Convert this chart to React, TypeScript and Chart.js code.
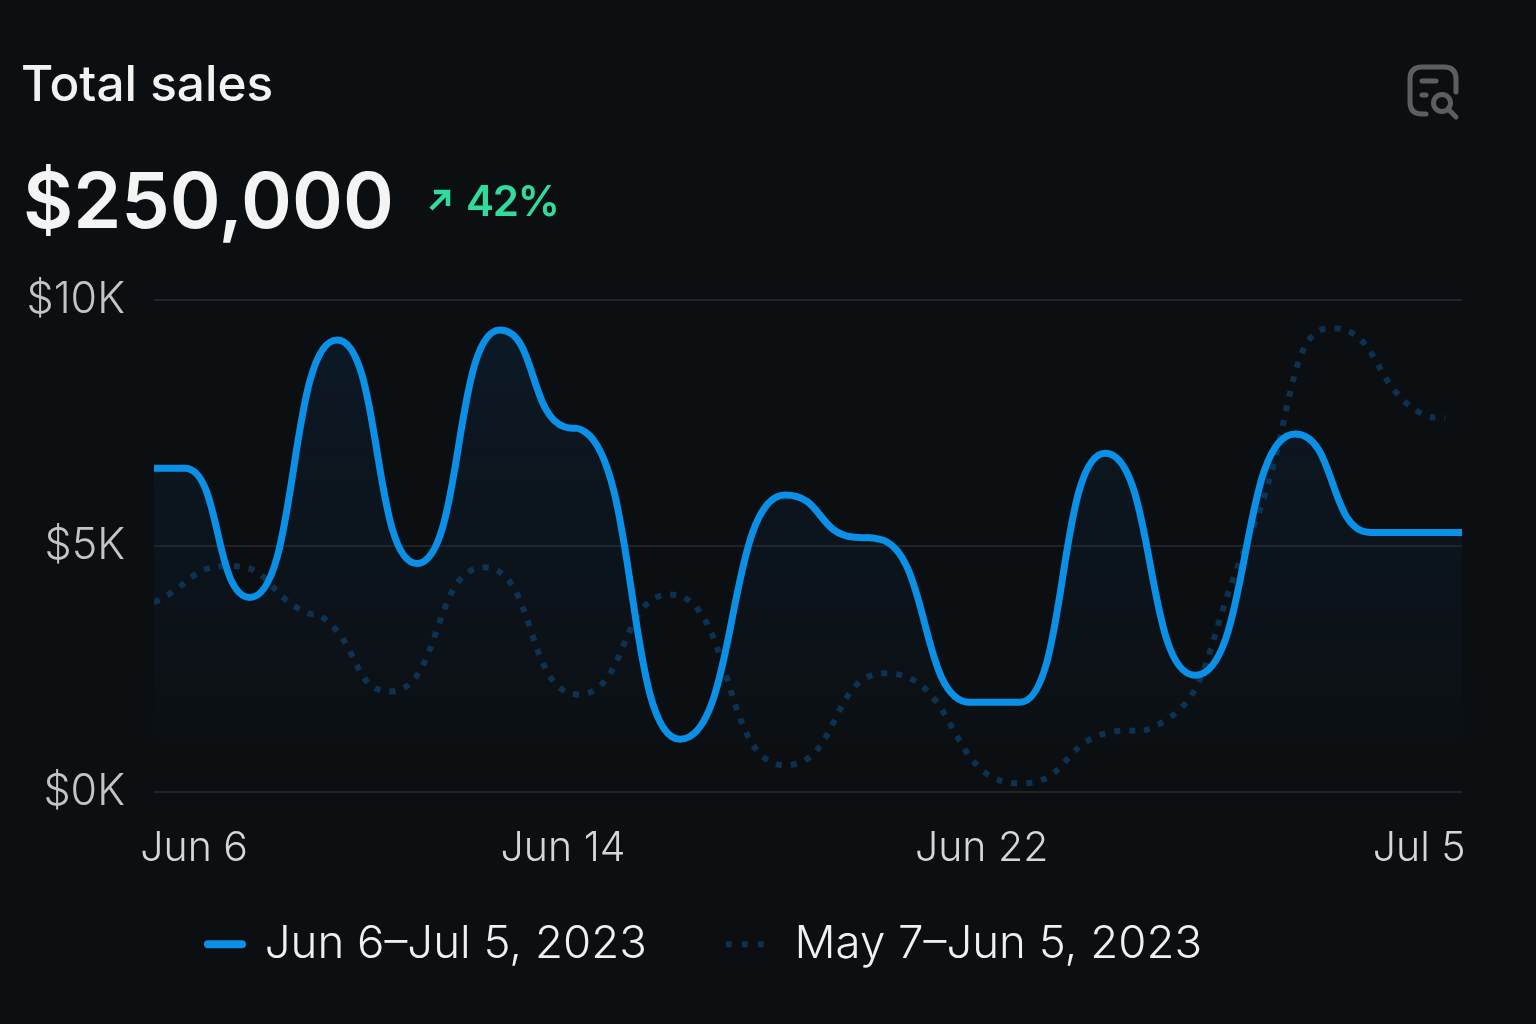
import React, { useEffect, useRef } from "react";
import { Chart, registerables } from "chart.js";

Chart.register(...registerables);

const currentDays = [0, 0.69, 2.13, 4.06, 5.83, 7.67, 9.11, 9.56, 11.66, 13.99, 15.54, 16.1, 18.09, 19.2, 21.09, 23.08, 25.3, 26.96, 29];
const currentSales = [6.585, 6.585, 3.96, 9.19, 4.65, 9.39, 7.42, 7.32, 1.08, 6.04, 5.18, 5.14, 1.83, 1.83, 6.89, 2.38, 7.28, 5.28, 5.28];
const previousDays = [0, 1.7, 3.39, 3.73, 5.23, 7.32, 9.4, 11.44, 13.99, 16.21, 19.2, 21.2, 22.42, 24.3, 26.08, 28.07, 28.63];
const previousSales = [3.86, 4.6, 3.65, 3.56, 2.05, 4.57, 1.99, 4.02, 0.55, 2.42, 0.18, 1.22, 1.46, 5.22, 9.43, 7.71, 7.6];
const xTickDays = [0.89, 9.07, 18.35, 28.05];
const xTickLabels = ["Jun 6", "Jun 14", "Jun 22", "Jul 5"];
const yTickValues = [0, 5, 10];
const currentLabel = "Jun 6–Jul 5, 2023";
const previousLabel = "May 7–Jun 5, 2023";

const FONT = "Inter, 'Noto Sans', sans-serif";

const zip = (xs: number[], ys: number[]) => xs.map((x, i) => ({ x, y: ys[i] }));

const layoutTweaks = {
  id: "layoutTweaks",
  afterLayout(chart: any) {
    const l = chart.legend;
    if (l) {
      const dx = -32;
      l.left += dx;
      l.right += dx;
    }
    // let the x tick labels extend below the axis box
    chart.scales.x.bottom = chart.height;
  },
  beforeDatasetsDraw(chart: any) {
    // widen the curve handles so peaks are round and flanks steep
    const k = 1.65;
    chart.getSortedVisibleDatasetMetas().forEach((meta: any) => {
      const line = meta.dataset;
      line.updateControlPoints(chart.chartArea, "x");
      meta.data.forEach((p: any) => {
        if (p.__widened) return;
        p.cp1x = p.x + (p.cp1x - p.x) * k;
        p.cp1y = p.y + (p.cp1y - p.y) * k;
        p.cp2x = p.x + (p.cp2x - p.x) * k;
        p.cp2y = p.y + (p.cp2y - p.y) * k;
        p.__widened = true;
      });
    });
  },
};

export default function App() {
  const ref = useRef<HTMLCanvasElement>(null);
  useEffect(() => {
    const chart = new Chart(ref.current!, {
      type: "line",
      plugins: [layoutTweaks],
      data: {
        datasets: [
          {
            label: currentLabel,
            data: zip(currentDays, currentSales),
            borderColor: "#0a90e6",
            borderWidth: 7,
            pointRadius: 0,
            cubicInterpolationMode: "monotone",
            fill: "origin",
            backgroundColor: (ctx: any) => {
              const a = ctx.chart.chartArea;
              if (!a) return "transparent";
              const g = ctx.chart.ctx.createLinearGradient(0, a.top, 0, a.bottom);
              g.addColorStop(0, "rgba(16,70,130,0.2)");
              g.addColorStop(1, "rgba(16,70,130,0.0)");
              return g;
            },
          },
          {
            label: previousLabel,
            data: zip(previousDays, previousSales),
            borderColor: "#0d3150",
            borderWidth: 6,
            borderDash: [6, 9],
            pointRadius: 0,
            cubicInterpolationMode: "monotone",
            fill: false,
          },
        ],
      },
      options: {
        responsive: false,
        animation: false,
        layout: { padding: { top: 300, right: 74, left: 0, bottom: 47 } },
        plugins: {
          tooltip: { enabled: false },
          legend: {
            display: true,
            position: "bottom",
            labels: {
              color: "#f0f0f0",
              font: { family: FONT, size: 45.6, weight: "300" },
              usePointStyle: true,
              pointStyle: "line",
              pointStyleWidth: 46,
              padding: 79,
              generateLabels: () => [
                { text: currentLabel, strokeStyle: "#0a90e6", lineWidth: 8, lineCap: "round", lineDash: [34, 100], lineDashOffset: -12, pointStyle: "line", fontColor: "#f0f0f0", fillStyle: "#0a90e6" },
                { text: previousLabel, strokeStyle: "#0d3150", lineWidth: 6, lineDash: [6, 10], pointStyle: "line", fontColor: "#f0f0f0", fillStyle: "#0d3150" },
              ],
            },
          },
        },
        scales: {
          x: {
            type: "linear",
            min: 0,
            max: 29,
            grid: { display: false },
            border: { display: false },
            afterBuildTicks: (s: any) => {
              s.ticks = xTickDays.map((value) => ({ value }));
            },
            afterFit: (s: any) => {
              s.height = 50;
            },
            ticks: {
              autoSkip: false,
              maxRotation: 0,
              padding: 24,
              color: "#d6d6d6",
              font: { family: FONT, size: 41, weight: "300" },
              callback: (v: any) => xTickLabels[xTickDays.indexOf(v)] ?? "",
            },
          },
          y: {
            type: "linear",
            min: 0,
            max: 10,
            afterBuildTicks: (s: any) => {
              s.ticks = yTickValues.map((value) => ({ value }));
            },
            afterFit: (s: any) => {
              s.width = 154;
            },
            grid: { color: "#202328", lineWidth: 2, drawTicks: false },
            border: { display: false },
            ticks: {
              padding: 29,
              color: "#c4c4c4",
              font: { family: FONT, size: 43, weight: "300" },
              callback: (v: any) => `$${v}K`,
            },
          },
        },
      },
    } as any);
    return () => chart.destroy();
  }, []);

  const txt: React.CSSProperties = { position: "absolute", fontFamily: FONT, whiteSpace: "nowrap", lineHeight: 1 };
  return (
    <div style={{ position: "absolute", left: 0, top: 0, width: 1536, height: 1024, background: "#0c0f11", overflow: "hidden" }}>
      <canvas ref={ref} width={1536} height={1024} style={{ position: "absolute", left: 0, top: 0, display: "block" }} />
      <div style={{ ...txt, left: 21, top: 59, fontSize: 49.5, fontWeight: 500, color: "#f2f2f2" }}>Total sales</div>
      <div style={{ ...txt, left: 23, top: 162, fontSize: 77.2, fontWeight: 600, color: "#f4f4f4" }}>$250,000</div>
      <div style={{ ...txt, left: 466, top: 180, fontSize: 42, fontWeight: 600, letterSpacing: -1.2, color: "#2fdc9e" }}>42%</div>
      <svg style={{ position: "absolute", left: 0, top: 0 }} width={1536} height={1024} fill="none">
        <path d="M431 209 L448 192 M434 192 H448 V206" stroke="#2fdc9e" strokeWidth={4.5} />
        <g stroke="#5c5e60" strokeWidth={5} strokeLinecap="round">
          <path d="M1426 114 H1422 Q1410 114 1410 102 V79 Q1410 67 1422 67 H1444 Q1456 67 1456 79 V92" />
          <path d="M1422 81 H1436 M1422 95 H1426" />
          <circle cx={1442} cy={103} r={8.5} />
          <path d="M1449 110 L1456 117" />
        </g>
      </svg>
    </div>
  );
}
